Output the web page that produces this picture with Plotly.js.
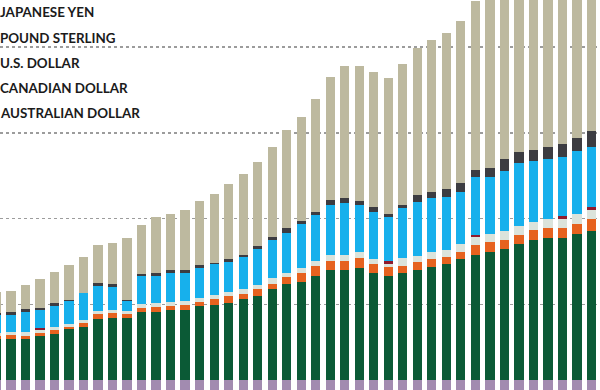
<!DOCTYPE html>
<html>
<head>
<meta charset="utf-8">
<script src="https://cdn.plot.ly/plotly-3.0.1.min.js"></script>
<style>
  html, body { margin: 0; padding: 0; background: #ffffff; }
  #chart { width: 600px; height: 390px; }
</style>
</head>
<body>
<div id="chart"></div>
<script>
// Period index (quarters), left to right
const periods = [0,1,2,3,4,5,6,7,8,9,10,11,12,13,14,15,16,17,18,19,20,
                 21,22,23,24,25,26,27,28,29,30,31,32,33,34,35,36,37,38,39,40,41];

// Stacked series values (bottom to top)
const seriesPurple = [0.23,0.23,0.23,0.23,0.23,0.23,0.23,0.23,0.23,0.23,0.23,
                      0.23,0.23,0.23,0.23,0.23,0.23,0.23,0.23,0.23,0.23,
                      0.23,0.23,0.23,0.23,0.23,0.23,0.23,0.23,0.23,0.23,
                      0.23,0.23,0.23,0.23,0.23,0.23,0.23,0.23,0.23,0.23,0.23];
const seriesGreen  = [0.97,0.97,0.96,1.02,1.07,1.19,1.25,1.42,1.45,1.46,1.59,
                      1.59,1.63,1.63,1.72,1.75,1.81,1.90,1.96,2.12,2.24,
                      2.29,2.44,2.56,2.56,2.61,2.51,2.43,2.50,2.57,2.65,
                      2.72,2.82,2.93,2.99,3.05,3.17,3.27,3.31,3.31,3.42,3.49];
const seriesOrange = [0.06,0.08,0.08,0.08,0.09,0.06,0.08,0.12,0.11,0.09,0.09,
                      0.11,0.09,0.12,0.10,0.15,0.16,0.12,0.16,0.12,0.16,
                      0.22,0.23,0.23,0.23,0.23,0.19,0.20,0.17,0.18,0.18,
                      0.16,0.18,0.23,0.23,0.22,0.22,0.23,0.23,0.23,0.23,0.28];
const seriesPale   = [0.06,0.08,0.09,0.06,0.09,0.06,0.08,0.08,0.08,0.07,0.09,
                      0.09,0.10,0.09,0.10,0.08,0.09,0.11,0.10,0.15,0.09,
                      0.10,0.11,0.14,0.14,0.15,0.13,0.09,0.17,0.14,0.15,
                      0.16,0.17,0.17,0.18,0.22,0.21,0.20,0.21,0.22,0.22,0.21];
const seriesRed    = [0,0,0,0.06,0,0,0,0,0,0,0,
                      0,0,0,0,0,0,0,0,0,0,
                      0,0,0,0,0,0,0.07,0,0,0,
                      0,0,0.05,0,0,0,0,0,0.06,0,0.06];
const seriesBlue   = [0.43,0.39,0.47,0.42,0.48,0.54,0.62,0.58,0.53,0.23,0.65,
                      0.65,0.67,0.66,0.70,0.74,0.70,0.74,0.83,0.88,0.94,
                      1.03,1.07,1.16,1.20,1.09,1.09,1.02,1.18,1.26,1.27,
                      1.24,1.23,1.35,1.34,1.39,1.46,1.41,1.41,1.39,1.47,1.39];
const seriesDark   = [0.05,0.08,0.06,0.05,0.07,0.02,0.01,0.07,0.08,0.01,0.06,
                      0.06,0.07,0.07,0.06,0.02,0.07,0.06,0.07,0.06,0.11,
                      0.08,0.08,0.11,0.12,0.11,0.12,0.07,0.07,0.17,0.15,
                      0.17,0.21,0.17,0.21,0.28,0.27,0.26,0.29,0.29,0.32,0.38];
const seriesTan    = [0.49,0.49,0.55,0.67,0.73,0.82,0.84,0.89,0.96,1.46,1.14,
                      1.31,1.32,1.40,1.51,1.61,1.74,1.87,1.96,2.12,2.29,
                      2.41,2.63,2.87,3.07,3.14,3.15,3.18,3.29,3.44,3.54,
                      3.66,3.78,3.94,4.33,4.36,4.44,4.50,4.52,4.57,4.50,4.56];

// Legend labels (swatches are cropped out of the frame)
const legendLabels = ["JAPANESE YEN", "POUND STERLING", "U.S. DOLLAR",
                      "CANADIAN DOLLAR", "AUSTRALIAN DOLLAR"];

const layers = [
  {name: "Other",             y: seriesPurple, color: "#a28bb0"},
  {name: "Series A",          y: seriesGreen,  color: "#0b5a36"},
  {name: "Series B",          y: seriesOrange, color: "#e6621f"},
  {name: "Series C",          y: seriesPale,   color: "#dbe3db"},
  {name: "Series D",          y: seriesRed,    color: "#8f1b2d"},
  {name: "Series E",          y: seriesBlue,   color: "#17b0ec"},
  {name: "Series F",          y: seriesDark,   color: "#3c3c41"},
  {name: "Series G",          y: seriesTan,    color: "#bdb99f"}
];

const traces = layers.map(l => ({
  type: "bar",
  x: periods,
  y: l.y,
  name: l.name,
  marker: {color: l.color, line: {width: 0}},
  hoverinfo: "skip"
}));

const legendTops = [12.5, 37.7, 63.0, 87.9, 113.3];
const annotations = legendLabels.map((t, i) => ({
  xref: "paper", yref: "paper",
  x: 0, y: 1 - legendTops[i] / 390,
  xanchor: "left", yanchor: "middle",
  xshift: -2,
  text: t, showarrow: false,
  font: {family: "Lato, 'Open Sans', sans-serif", size: 13.4, color: "#1b1b1b", weight: 700}
}));

const layout = {
  width: 600, height: 390,
  margin: {l: 0, r: 0, t: 0, b: 0, pad: 0},
  paper_bgcolor: "#ffffff",
  plot_bgcolor: "#ffffff",
  barmode: "stack",
  bargap: 0.36,
  showlegend: false,
  xaxis: {
    range: [0.242, 41.59],
    showgrid: false, zeroline: false, showline: false,
    showticklabels: false, ticks: ""
  },
  yaxis: {
    range: [0, 9.1],
    tick0: 0, dtick: 2,
    showgrid: true, gridcolor: "#9c9c9c", gridwidth: 1.5, griddash: "dot",
    zeroline: false, showline: false,
    showticklabels: false, ticks: ""
  },
  annotations: annotations
};

Plotly.newPlot("chart", traces, layout, {staticPlot: true, displayModeBar: false});
</script>
</body>
</html>
